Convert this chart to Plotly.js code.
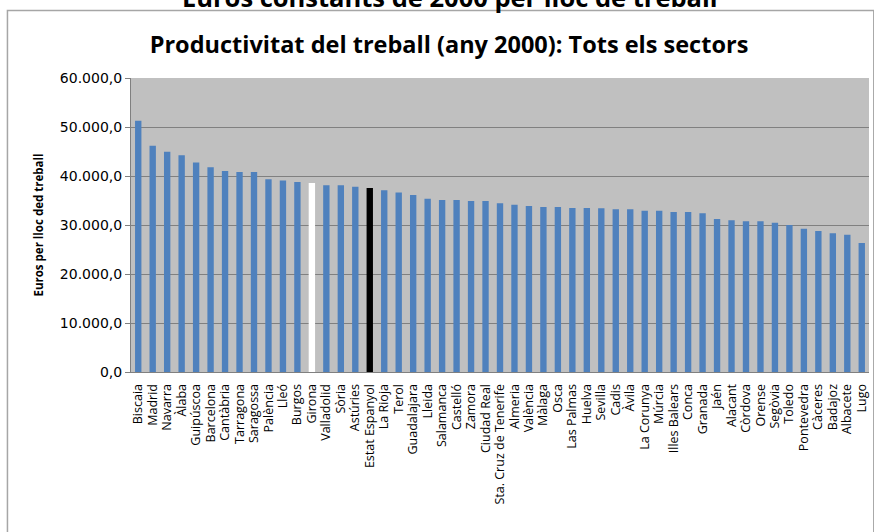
<!DOCTYPE html>
<html>
<head>
<meta charset="utf-8">
<script src="https://cdn.plot.ly/plotly-3.0.1.min.js"></script>
<style>html,body{margin:0;padding:0;background:#fff;}#chart{width:874px;height:532px;}</style>
</head>
<body>
<div id="chart"></div>
<script>
const categories = ["Biscaia","Madrid","Navarra","Àlaba","Guipúscoa","Barcelona","Cantàbria","Tarragona","Saragossa","Palència","Lleó","Burgos","Girona","Valladolid","Sòria","Astúries","Estat Espanyol","La Rioja","Terol","Guadalajara","Lleida","Salamanca","Castelló","Zamora","Ciudad Real","Sta. Cruz de Tenerife","Almeria","València","Màlaga","Osca","Las Palmas","Huelva","Sevilla","Cadis","Àvila","La Corunya","Múrcia","Illes Balears","Conca","Granada","Jaén","Alacant","Còrdova","Orense","Segòvia","Toledo","Pontevedra","Càceres","Badajoz","Albacete","Lugo"];
const productivity = [51300,46150,44930,44250,42740,41800,41040,40840,40820,39340,39060,38790,38590,38120,38100,37830,37570,37090,36610,36130,35380,35110,35100,34900,34890,34440,34150,33890,33680,33670,33470,33460,33420,33200,33190,32920,32910,32660,32650,32390,31230,30960,30760,30750,30470,30000,29240,28770,28300,28020,26320];
const highlightGirona = "Girona";
const highlightSpain = "Estat Espanyol";
const titleText = "Productivitat del treball (any 2000): Tots els sectors";
const topText = "Euros constants de 2000 per lloc de treball";
const yTitle = "Euros per lloc ded treball";

const barColors = categories.map(c => c === highlightGirona ? "#ffffff" : (c === highlightSpain ? "#000000" : "#4f81bd"));

const W = 874, H = 532;
const L = 131, R = 868.7, T = 78, B = 372;
const pw = R - L, ph = B - T;
const px = x => (x - L) / pw;
const py = y => (B - y) / ph;

const data = [{
  type: "bar",
  x: categories,
  y: productivity,
  marker: {color: barColors, line: {width: 0}},
  hoverinfo: "x+y"
}];

const layout = {
  width: W, height: H,
  margin: {l: L, r: W - R, t: T, b: H - B, pad: 0},
  paper_bgcolor: "#ffffff",
  plot_bgcolor: "#c0c0c0",
  separators: ",.",
  bargap: 0.56,
  showlegend: false,
  font: {family: "Open Sans, sans-serif", color: "#000"},
  title: {
    text: "<b>" + titleText + "</b>",
    font: {family: "Open Sans, sans-serif", size: 23.5, color: "#000"},
    x: 449 / W, xanchor: "center", xref: "container",
    y: 1 - 45 / H, yanchor: "middle", yref: "container"
  },
  xaxis: {
    type: "category",
    tickmode: "array",
    tickvals: categories,
    ticktext: categories,
    tickangle: -90,
    tickfont: {family: "Open Sans, sans-serif", size: 12.5, color: "#000"},
    showline: true, linecolor: "#808080", linewidth: 1,
    ticks: "outside", ticklen: 6, tickcolor: "rgba(0,0,0,0)",
    showgrid: false, automargin: false
  },
  yaxis: {
    range: [0, 60000], dtick: 10000, tick0: 0,
    tickformat: ",.1f",
    tickfont: {family: "DejaVu Sans, sans-serif", size: 14, color: "#000"},
    showline: true, linecolor: "#808080", linewidth: 1,
    ticks: "outside", ticklen: 5, tickcolor: "#808080",
    showgrid: true, gridcolor: "#808080", gridwidth: 1,
    zeroline: false, automargin: false,
    title: {text: "<b>" + yTitle + "</b>", font: {family: "Open Sans, sans-serif", size: 11.5, color: "#000"}, standoff: 13}
  },
  shapes: [{
    type: "rect", xref: "paper", yref: "paper",
    x0: px(7.5), x1: px(873.5), y0: py(545), y1: py(10.5),
    line: {color: "#a6a6a6", width: 1.5}, fillcolor: "rgba(0,0,0,0)", layer: "below"
  }],
  annotations: [{
    text: "<b>" + topText + "</b>", xref: "paper", yref: "paper",
    x: px(450), y: py(-3), xanchor: "center", yanchor: "middle",
    showarrow: false,
    font: {family: "Open Sans, sans-serif", size: 25.5, color: "#000"}
  }]
};

Plotly.newPlot("chart", data, layout, {displayModeBar: false, staticPlot: true});
</script>
</body>
</html>
